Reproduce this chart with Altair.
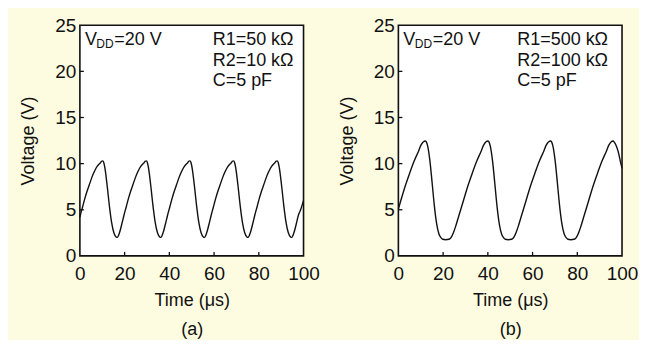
import altair as alt
import pandas as pd

# ---- data ----
time_a = [0, 0.2, 1.2, 2.2, 3.2, 4.2, 5.2, 6.2, 7.2, 8.2, 9.2, 9.7, 10.2, 10.7, 11.2, 12.2, 13.2, 14.2, 15.2, 16.2,
          16.7, 17.7, 18.7, 19.7, 20.7, 21.7, 22.7, 23.7, 24.7, 25.7, 26.7, 27.7, 28.7, 29.2, 29.7, 30.2, 30.7, 31.7, 32.7, 33.7, 34.7, 35.7,
          36.2, 37.2, 38.2, 39.2, 40.2, 41.2, 42.2, 43.2, 44.2, 45.2, 46.2, 47.2, 48.2, 48.7, 49.2, 49.7, 50.2, 51.2, 52.2, 53.2, 54.2, 55.2,
          55.7, 56.7, 57.7, 58.7, 59.7, 60.7, 61.7, 62.7, 63.7, 64.7, 65.7, 66.7, 67.7, 68.2, 68.7, 69.2, 69.7, 70.7, 71.7, 72.7, 73.7, 74.7,
          75.2, 76.2, 77.2, 78.2, 79.2, 80.2, 81.2, 82.2, 83.2, 84.2, 85.2, 86.2, 87.2, 87.7, 88.2, 88.7, 89.2, 90.2, 91.2, 92.2, 93.2, 94.2,
          94.7, 95.7, 96.7, 97.7, 98.7, 100]
volt_a = [4.2, 4.4, 5.3, 6.2, 7.0, 7.7, 8.4, 9.0, 9.5, 9.85, 10.1, 10.25, 10.3, 10.1, 9.5, 7.6, 5.4, 3.6, 2.5, 2.05,
          2.0, 2.5, 3.4, 4.4, 5.3, 6.2, 7.0, 7.7, 8.4, 9.0, 9.5, 9.85, 10.1, 10.25, 10.3, 10.1, 9.5, 7.6, 5.4, 3.6, 2.5, 2.05,
          2.0, 2.5, 3.4, 4.4, 5.3, 6.2, 7.0, 7.7, 8.4, 9.0, 9.5, 9.85, 10.1, 10.25, 10.3, 10.1, 9.5, 7.6, 5.4, 3.6, 2.5, 2.05,
          2.0, 2.5, 3.4, 4.4, 5.3, 6.2, 7.0, 7.7, 8.4, 9.0, 9.5, 9.85, 10.1, 10.25, 10.3, 10.1, 9.5, 7.6, 5.4, 3.6, 2.5, 2.05,
          2.0, 2.5, 3.4, 4.4, 5.3, 6.2, 7.0, 7.7, 8.4, 9.0, 9.5, 9.85, 10.1, 10.25, 10.3, 10.1, 9.5, 7.6, 5.4, 3.6, 2.5, 2.05,
          2.0, 2.5, 3.4, 4.4, 5.0, 6.0]

time_b = [0, 1.1, 3.1, 5.1, 7.1, 9.1, 10.1, 11.1,
          12.1, 12.6, 13.1, 14.1, 15.1, 16.1, 17.1, 18.1, 19.1, 19.8, 21.1, 22.6, 23.6, 24.6, 25.6, 27.1, 29.1, 31.1, 33.1, 35.1, 37.1, 38.1, 39.1,
          40.1, 40.6, 41.1, 42.1, 43.1, 44.1, 45.1, 46.1, 47.1, 47.8, 49.1, 50.6, 51.6, 52.6, 53.6, 55.1, 57.1, 59.1, 61.1, 63.1, 65.1, 66.1, 67.1,
          68.1, 68.6, 69.1, 70.1, 71.1, 72.1, 73.1, 74.1, 75.1, 75.8, 77.1, 78.6, 79.6, 80.6, 81.6, 83.1, 85.1, 87.1, 89.1, 91.1, 93.1, 94.1, 95.1,
          96.0, 96.6, 97.3, 98.3, 99.2, 100]
volt_b = [5.1, 6.0, 7.6, 9.0, 10.3, 11.4, 12.0, 12.35,
          12.45, 12.3, 11.9, 10.3, 7.9, 5.4, 3.5, 2.4, 1.95, 1.8, 1.75, 1.8, 2.0, 2.5, 3.2, 4.4, 6.0, 7.6, 9.0, 10.3, 11.4, 12.0, 12.35,
          12.45, 12.3, 11.9, 10.3, 7.9, 5.4, 3.5, 2.4, 1.95, 1.8, 1.75, 1.8, 2.0, 2.5, 3.2, 4.4, 6.0, 7.6, 9.0, 10.3, 11.4, 12.0, 12.35,
          12.45, 12.3, 11.9, 10.3, 7.9, 5.4, 3.5, 2.4, 1.95, 1.8, 1.75, 1.8, 2.0, 2.5, 3.2, 4.4, 6.0, 7.6, 9.0, 10.3, 11.4, 12.0, 12.35,
          12.45, 12.3, 12.0, 11.3, 10.3, 9.5]

x_ticks = [20, 40, 60, 80]
y_ticks = [5, 10, 15, 20]
x_labels = [0, 20, 40, 60, 80, 100]
y_labels = [0, 5, 10, 15, 20, 25]

params_a = ["R1=50 kΩ", "R2=10 kΩ", "C=5 pF"]
params_b = ["R1=500 kΩ", "R2=100 kΩ", "C=5 pF"]

FONT = "Liberation Sans"
W, H = 224, 231


def panel(t, v, params, label, right_x):
    df = pd.DataFrame({"t": t, "v": v})
    xs = alt.Scale(domain=[0, 100], nice=False)
    ys = alt.Scale(domain=[0, 25], nice=False)
    line = alt.Chart(df).mark_line(color="#111111", strokeWidth=1.4, interpolate="monotone").encode(
        x=alt.X("t:Q", scale=xs,
                axis=alt.Axis(values=x_labels, title=["Time (μs)", label], titleLineHeight=29,
                              labelFontSize=19, labelPadding=9, titleFontSize=18, titlePadding=8,
                              labelFlush=False, labelOverlap=False,
                              titleFontWeight="normal", titleColor="#111", labelColor="#111",
                              domain=False, ticks=False, grid=False, labelFont=FONT, titleFont=FONT)),
        y=alt.Y("v:Q", scale=ys,
                axis=alt.Axis(values=y_labels, title="Voltage (V)",
                              labelFontSize=19, labelPadding=4, titleFontSize=18, titlePadding=17,
                              labelFlush=False, labelOverlap=False,
                              titleFontWeight="normal", titleColor="#111", labelColor="#111",
                              domain=False, ticks=False, grid=False, labelFont=FONT, titleFont=FONT)),
    )
    xt = alt.Chart(pd.DataFrame({"t": x_ticks})).mark_rule(color="#111", strokeWidth=1.3).encode(
        x=alt.X("t:Q", scale=xs), y=alt.value(H), y2=alt.value(H - 4))
    yt = alt.Chart(pd.DataFrame({"v": y_ticks})).mark_rule(color="#111", strokeWidth=1.3).encode(
        y=alt.Y("v:Q", scale=ys), x=alt.value(0), x2=alt.value(4))
    txt = dict(font=FONT, color="#111", align="left", baseline="alphabetic")
    vdd1 = alt.Chart(pd.DataFrame({"s": ["V"]})).mark_text(fontSize=18, **txt).encode(
        text="s:N", x=alt.value(5), y=alt.value(20))
    vdd2 = alt.Chart(pd.DataFrame({"s": ["DD"]})).mark_text(fontSize=12, **txt).encode(
        text="s:N", x=alt.value(16.5), y=alt.value(22.5))
    vdd3 = alt.Chart(pd.DataFrame({"s": ["=20 V"]})).mark_text(fontSize=18, **txt).encode(
        text="s:N", x=alt.value(34.5), y=alt.value(20))
    ptxt = alt.Chart(pd.DataFrame({"s": params, "row": [20, 40.5, 61]})).mark_text(fontSize=18, **txt).encode(
        text="s:N", x=alt.value(right_x), y=alt.Y("row:Q", scale=None, axis=None))
    return alt.layer(line, xt, yt, vdd1, vdd2, vdd3, ptxt).properties(
        width=W, height=H,
        view=alt.ViewBackground(stroke="#111111", strokeWidth=1.6, fill="white"),
    )


a = panel(time_a, volt_a, params_a, "(a)", 133)
b = panel(time_b, volt_b, params_b, "(b)", 119)

chart = alt.hconcat(a, b, spacing=17).properties(
    padding={"left": 11, "top": 7, "right": 0, "bottom": 0},
    background="#FEFCE0",
).configure_view(stroke="#111111", strokeWidth=1.6, fill="white")

chart.save("out.html", embed_options={"renderer": "svg", "actions": False})
